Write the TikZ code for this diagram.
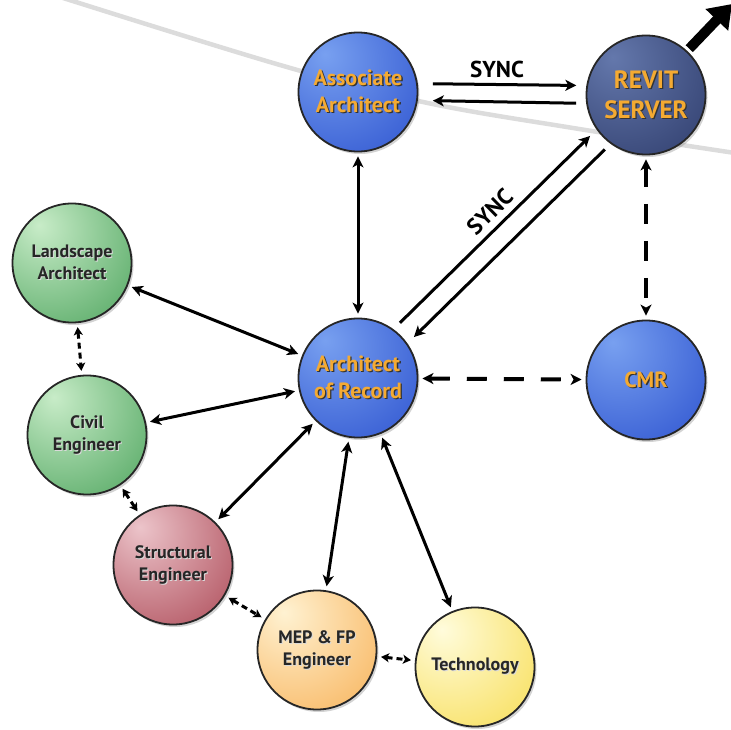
\documentclass[tikz,border=0pt]{standalone}
\usepackage{fontspec}
\setmainfont{PT Sans}
\usetikzlibrary{arrows.meta,shadows}
\definecolor{orangetext}{RGB}{244,170,50}
\definecolor{blueA}{RGB}{120,160,240}
\definecolor{blueB}{RGB}{25,62,198}
\definecolor{revA}{RGB}{100,120,172}
\definecolor{revB}{RGB}{32,44,90}
\definecolor{greenA}{RGB}{200,236,200}
\definecolor{greenB}{RGB}{45,145,65}
\definecolor{redA}{RGB}{236,196,202}
\definecolor{redB}{RGB}{155,40,55}
\definecolor{mepA}{RGB}{255,242,210}
\definecolor{mepB}{RGB}{245,160,55}
\definecolor{techA}{RGB}{255,252,220}
\definecolor{techB}{RGB}{245,212,45}
\definecolor{arcgray}{RGB}{220,220,220}
\pgfdeclareradialshading{blueball}{\pgfpoint{-14bp}{16bp}}{color(0bp)=(blueA); color(62bp)=(blueB); color(100bp)=(blueB)}
\pgfdeclareradialshading{revball}{\pgfpoint{-14bp}{16bp}}{color(0bp)=(revA); color(62bp)=(revB); color(100bp)=(revB)}
\pgfdeclareradialshading{greenball}{\pgfpoint{-14bp}{16bp}}{color(0bp)=(greenA); color(62bp)=(greenB); color(100bp)=(greenB)}
\pgfdeclareradialshading{redball}{\pgfpoint{-14bp}{16bp}}{color(0bp)=(redA); color(62bp)=(redB); color(100bp)=(redB)}
\pgfdeclareradialshading{mepball}{\pgfpoint{-14bp}{16bp}}{color(0bp)=(mepA); color(62bp)=(mepB); color(100bp)=(mepB)}
\pgfdeclareradialshading{techball}{\pgfpoint{-14bp}{16bp}}{color(0bp)=(techA); color(62bp)=(techB); color(100bp)=(techB)}
\newcommand\ot[1]{\leavevmode\rlap{\kern1.3pt\raisebox{-1.3pt}{\color{black!80}#1}}{\color{orangetext}#1}}
\newcommand\dt[1]{\leavevmode\rlap{\kern1pt\raisebox{-1pt}{\color{white!70!gray}#1}}{\color{black!85}#1}}
\begin{document}
\begin{tikzpicture}[x=1pt,y=-1pt,
  ball/.style={circle, draw=black!85, line width=1.8pt, minimum size=119pt, inner sep=0pt,
    align=center, drop shadow={shadow xshift=2pt, shadow yshift=-2.5pt, opacity=0.35}},
  blueball/.style={ball, shading=blueball, font=\fontsize{22}{27}\selectfont\bfseries},
  revball/.style={ball, shading=revball, font=\fontsize{25}{30}\selectfont\bfseries},
  smallball/.style={ball, font=\fontsize{18}{22}\selectfont\bfseries},
  tip/.tip={Stealth[length=11pt,width=11pt,inset=3pt]},
  smalltip/.tip={Stealth[length=8pt,width=9pt,inset=2pt]},
  link/.style={line width=3pt, tip-tip, shorten <=4pt, shorten >=4pt},
  sync/.style={line width=3pt, -tip},
  bigdash/.style={line width=4pt, tip-tip, shorten <=4pt, shorten >=4pt, dash pattern=on 20pt off 17pt},
  smalldash/.style={line width=3pt, smalltip-smalltip, shorten <=4pt, shorten >=4pt, dash pattern=on 6pt off 4pt},
  lbl/.style={font=\fontsize{23}{25}\selectfont\bfseries, text=black}
]
\path[use as bounding box] (0,0) rectangle (731,730);
% grey arc
\draw[arcgray, line width=4.5pt] plot[smooth, tension=0.6] coordinates {(60,-3) (280,65) (423,102) (573,128) (735,153)};
% nodes
\node[blueball] (aa) at (358,92) {\ot{Associate}\\\ot{Architect}};
\node[revball] (rev) at (646,95) {\ot{REVIT}\\\ot{SERVER}};
\node[blueball] (aor) at (358,378) {\ot{Architect}\\\ot{of Record}};
\node[blueball] (cmr) at (646,380) {\ot{CMR}};
\node[smallball, shading=greenball] (land) at (72,263) {\dt{Landscape}\\\dt{Architect}};
\node[smallball, shading=greenball] (civil) at (87,435) {\dt{Civil}\\\dt{Engineer}};
\node[smallball, shading=redball] (str) at (173,565) {\dt{Structural}\\\dt{Engineer}};
\node[smallball, shading=mepball] (mep) at (317,650) {\dt{MEP \& FP}\\\dt{Engineer}};
\node[smallball, shading=techball] (tech) at (475,667) {\dt{Technology}};
% big arrow out of server
\coordinate (out) at (732,4);
\draw[line width=10pt, -{Triangle[length=22pt,width=30pt]}, shorten <=3pt] (rev.47) -- (out);
% sync arrows
\draw[sync, shorten <=15pt, shorten >=10pt] (aa.8) -- node[lbl, above=2pt, pos=0.47] {SYNC} (rev.171);
\draw[sync, shorten <=10pt, shorten >=15pt] (rev.-172) -- (aa.-8);
\draw[sync, shorten <=9pt, shorten >=9pt] (aor.54) -- node[lbl, sloped, above=3pt, pos=0.53] {SYNC} (rev.215);
\draw[sync, shorten <=8pt, shorten >=9pt] (rev.234) -- (aor.35);
% solid links
\draw[link] (aa) -- (aor);
\draw[link] (land) -- (aor);
\draw[link] (civil) -- (aor);
\draw[link] (str) -- (aor);
\draw[link] (mep) -- (aor);
\draw[link] (tech) -- (aor);
% dashed links
\draw[bigdash] (rev) -- (cmr);
\draw[bigdash] (aor) -- (cmr);
\draw[smalldash] (land) -- (civil);
\draw[smalldash] (civil) -- (str);
\draw[smalldash] (str) -- (mep);
\draw[smalldash] (mep) -- (tech);
\end{tikzpicture}
\end{document}
